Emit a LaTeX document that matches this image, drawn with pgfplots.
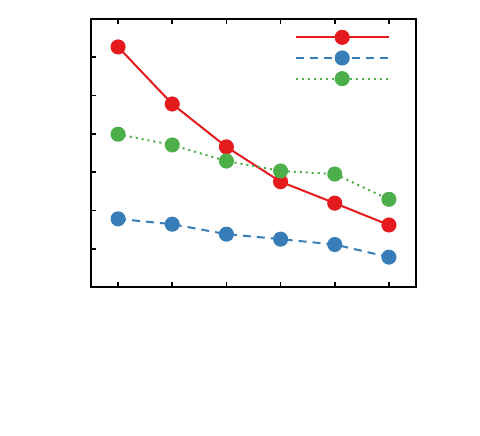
\documentclass[border=0pt]{standalone}
\usepackage{pgfplots}
\pgfplotsset{compat=1.18}
\definecolor{cred}{HTML}{E41A1C}
\definecolor{cblue}{HTML}{377EB8}
\definecolor{cgreen}{HTML}{4DAF4A}
\begin{document}
\begin{tikzpicture}
\useasboundingbox[fill=white] (0pt,0pt) rectangle (360pt,-327pt);
\begin{axis}[
  scale only axis,
  width=243.75pt, height=201pt,
  at={(68.25pt,-215.25pt)}, anchor=south west,
  xmin=0.5, xmax=6.5, ymin=0, ymax=7,
  xtick={1,2,3,4,5,6}, ytick={1,2,3,4,5,6},
  xticklabels={}, yticklabels={},
  xtick pos=both, ytick pos=left,
  tick align=inside,
  major tick length=4pt,
  axis line style={line width=1.5pt},
  every tick/.style={black, line width=1.2pt},
  legend image code/.code={\draw[mark repeat=2,mark phase=2,#1] plot coordinates {(0pt,0pt) (35pt,0pt) (70pt,0pt)};},
  legend style={at={(0.775,0.965)}, anchor=north, draw=none, fill=none,
    row sep=2.5pt, inner sep=0pt, nodes={inner sep=0pt, text height=10pt, text depth=3pt}},
  legend cell align=left,
]
\addplot[cred, line width=1.5pt, mark=*, mark size=4.9pt, mark options={solid}]
  coordinates {(1,6.27) (2,4.78) (3,3.66) (4,2.75) (5,2.19) (6,1.62)};
\addlegendentry{}
\addplot[cblue, line width=1.5pt, dash pattern=on 6pt off 4.5pt, mark=*, mark size=4.9pt, mark options={solid}]
  coordinates {(1,1.78) (2,1.64) (3,1.38) (4,1.25) (5,1.11) (6,0.78)};
\addlegendentry{}
\addplot[cgreen, line width=1.5pt, dash pattern=on 1.5pt off 3pt, mark=*, mark size=4.9pt, mark options={solid}]
  coordinates {(1,3.99) (2,3.71) (3,3.29) (4,3.03) (5,2.95) (6,2.29)};
\addlegendentry{}
\end{axis}
\end{tikzpicture}
\end{document}
